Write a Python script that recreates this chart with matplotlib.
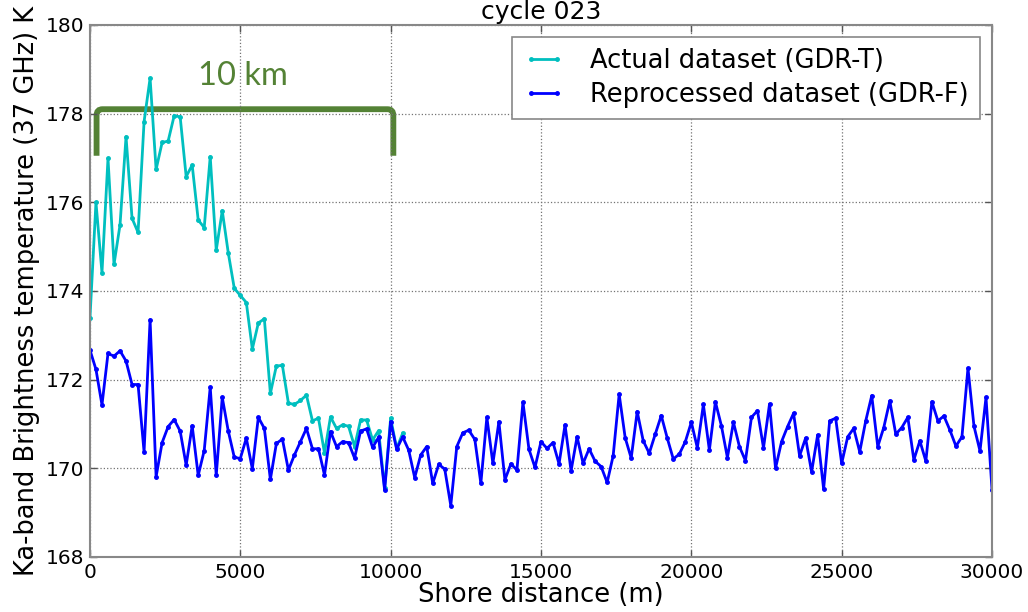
#!/usr/bin/env python
# -*- coding: utf-8 -*-
"""
Ka-band brightness temperature vs shore distance, cycle 023:
GDR-T (actual) against GDR-F (reprocessed).
"""

import numpy as np
import matplotlib
matplotlib.use("Agg")
import matplotlib.pyplot as plt
from matplotlib.path import Path
from matplotlib.patches import PathPatch

# along-track sampling step (m)
STEP = 200

# reprocessed dataset (GDR-F), one value per 200 m from 0 to 30000 m
gdr_f = [
    172.67, 172.23, 171.43, 172.59, 172.53, 172.65, 172.42, 171.89, 171.89, 170.37,
    173.35, 169.81, 170.58, 170.94, 171.10, 170.84, 170.07, 170.96, 169.84, 170.40,
    171.83, 169.84, 171.60, 170.84, 170.25, 170.22, 170.68, 169.99, 171.15, 170.90,
    169.75, 170.56, 170.66, 169.96, 170.30, 170.60, 170.90, 170.44, 170.44, 169.85,
    170.83, 170.49, 170.60, 170.58, 170.23, 170.84, 170.89, 170.47, 170.70, 169.51,
    171.05, 170.43, 170.71, 170.41, 169.79, 170.30, 170.49, 169.66, 170.09, 169.98,
    169.16, 170.49, 170.80, 170.86, 170.65, 169.66, 171.15, 170.11, 171.05, 169.74,
    170.10, 169.96, 171.49, 170.43, 170.02, 170.60, 170.45, 170.58, 170.10, 170.98,
    169.94, 170.71, 170.11, 170.44, 170.16, 170.04, 169.68, 170.28, 171.67, 170.69,
    170.23, 171.28, 170.62, 170.34, 170.77, 171.19, 170.68, 170.21, 170.32, 170.60,
    171.04, 170.46, 171.44, 170.41, 171.50, 170.96, 170.24, 171.04, 170.49, 170.17,
    171.15, 171.30, 170.46, 171.45, 170.00, 170.60, 170.94, 171.24, 170.28, 170.68,
    169.92, 170.75, 169.53, 171.07, 171.13, 170.11, 170.71, 170.90, 170.37, 171.07,
    171.64, 170.49, 170.92, 171.52, 170.77, 170.92, 171.15, 170.19, 170.62, 170.16,
    171.50, 171.07, 171.18, 170.86, 170.50, 170.71, 172.26, 170.95, 170.39, 171.60,
    169.51,
]

# actual dataset (GDR-T), only the first ~10 km
gdr_t = [
    173.38, 176.00, 174.41, 176.99, 174.60, 175.49, 177.48, 175.64, 175.32, 177.82,
    178.80, 176.74, 177.35, 177.38, 177.95, 177.93, 176.58, 176.84, 175.60, 175.43,
    177.03, 174.92, 175.81, 174.86, 174.06, 173.90, 173.74, 172.69, 173.28, 173.37,
    171.69, 172.31, 172.32, 171.47, 171.44, 171.53, 171.65, 171.07, 171.13, 170.35,
    171.16, 170.90, 170.98, 170.95, 170.49, 171.09, 171.09, 170.64, 170.85, 169.55,
    171.13, 170.45, 170.79,
]

x_ticks = [0, 5000, 10000, 15000, 20000, 25000, 30000]
y_ticks = [168, 170, 172, 174, 176, 178, 180]

GREEN = "#548235"


def bracket_path(xl, xr, yb, yt, rx, ry):
    # open bracket with rounded top corners
    verts = [
        (xl, yb), (xl, yt - ry),
        (xl, yt), (xl + rx, yt),
        (xr - rx, yt),
        (xr, yt), (xr, yt - ry),
        (xr, yb),
    ]
    codes = [
        Path.MOVETO, Path.LINETO,
        Path.CURVE3, Path.CURVE3,
        Path.LINETO,
        Path.CURVE3, Path.CURVE3,
        Path.LINETO,
    ]
    return Path(verts, codes)


def main():
    x_f = np.arange(len(gdr_f)) * STEP
    x_t = np.arange(len(gdr_t)) * STEP

    fig = plt.figure(figsize=(10.28, 6.12), dpi=100)
    ax = fig.add_axes([0.0875, 0.0899, 0.8775, 0.8693])

    ax.plot(x_t, gdr_t, color="#00BFBF", lw=2, marker=".", ms=5,
            label="Actual dataset (GDR-T)")
    ax.plot(x_f, gdr_f, color="#0000FF", lw=2, marker=".", ms=5,
            label="Reprocessed dataset (GDR-F)")

    ax.set_xlim(0, 30000)
    ax.set_ylim(168, 180)
    ax.set_xticks(x_ticks)
    ax.set_yticks(y_ticks)
    ax.tick_params(direction="in", length=5, width=1, labelsize=14.5,
                   top=True, right=True, pad=4, colors="#555555",
                   labelcolor="black")
    ax.grid(True, linestyle=":", color="0.45", lw=0.9)
    for sp in ax.spines.values():
        sp.set_color("#888888")
        sp.set_linewidth(1.5)

    ax.set_xlabel("Shore distance (m)", fontsize=18.5, labelpad=0)
    ax.set_ylabel("Ka-band Brightness temperature (37 GHz) K", fontsize=18.5,
                  labelpad=4)
    ax.set_title("cycle 023", fontsize=18, pad=4)

    # 10 km bracket
    ax.add_patch(PathPatch(bracket_path(220, 10090, 177.05, 178.1, 200, 0.14),
                           fill=False, edgecolor=GREEN, lw=4.2,
                           capstyle="butt"))
    ax.text(5100, 178.85, "10 km", color=GREEN, fontsize=23.5,
            family="Lato", ha="center", va="center")

    leg = ax.legend(loc="upper right", fontsize=18.5, numpoints=2,
                    fancybox=False, framealpha=1, borderpad=0.45,
                    labelspacing=0.3, handlelength=1.6, handletextpad=1.0,
                    borderaxespad=0.45)
    leg.get_frame().set_edgecolor("#888888")
    leg.get_frame().set_linewidth(1.2)

    plt.savefig("out.png", dpi=100)


if __name__ == "__main__":
    main()
